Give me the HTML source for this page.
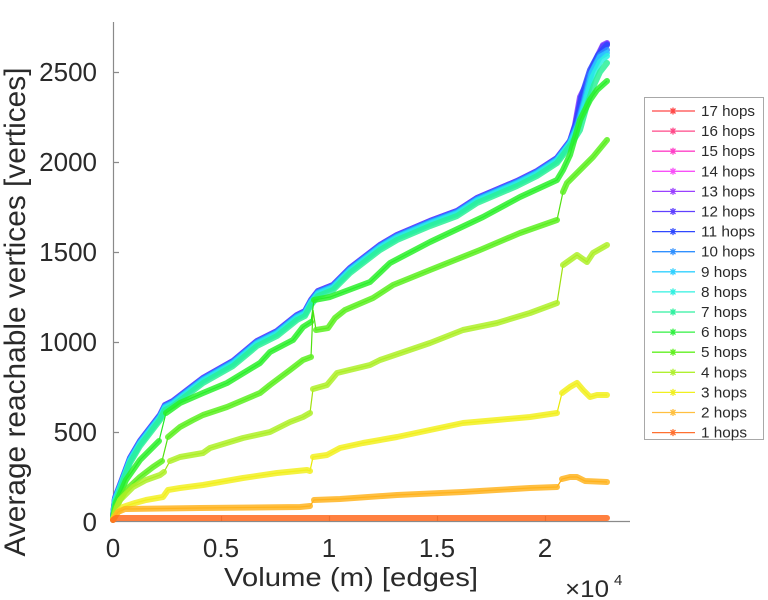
<!DOCTYPE html>
<html><head><meta charset="utf-8"><style>html,body{margin:0;padding:0;background:#fff}svg{display:block}
.b{fill:none;stroke-width:6;stroke-linejoin:round;stroke-linecap:round;stroke-opacity:.85}
.t{fill:none;stroke-width:1.2}
.tx{fill:#2a2a2a;font-family:"Liberation Sans",Arial,sans-serif}
</style></head><body>
<svg width="768" height="600" viewBox="0 0 768 600" xmlns="http://www.w3.org/2000/svg">
<rect width="768" height="600" fill="#fff"/>
<!-- axes -->
<g stroke="#8a8a8a" stroke-width="1.2" fill="none">
<line x1="113.5" y1="22" x2="113.5" y2="522"/>
<line x1="113" y1="521.5" x2="630" y2="521.5"/>
<path d="M113,72.5H119M113,162.5H119M113,252.5H119M113,342.5H119M113,432.5H119M221.5,521H221.5V516M329.5,521V516M437.5,521V516M545.5,521V516"/>
</g>
<!-- y tick labels -->
<g class="tx" font-size="26" text-anchor="end">
<text x="97" y="81">2500</text>
<text x="97" y="171">2000</text>
<text x="97" y="261">1500</text>
<text x="97" y="351">1000</text>
<text x="97" y="441">500</text>
<text x="97" y="531">0</text>
</g>
<g class="tx" font-size="26" text-anchor="middle">
<text x="113" y="557">0</text>
<text x="221" y="557">0.5</text>
<text x="329" y="557">1</text>
<text x="437" y="557">1.5</text>
<text x="545" y="557">2</text>
</g>
<text class="tx" x="351" y="586" font-size="26" text-anchor="middle" textLength="254" lengthAdjust="spacingAndGlyphs">Volume (m) [edges]</text>
<text class="tx" x="565" y="597" font-size="24" textLength="44" lengthAdjust="spacingAndGlyphs">×10</text>
<text class="tx" x="614" y="585" font-size="15">4</text>
<text class="tx" transform="translate(25,312) rotate(-90)" font-size="30" text-anchor="middle" textLength="489" lengthAdjust="spacingAndGlyphs">Average reachable vertices [vertices]</text>

<!-- cluster 13..7 -->
<g transform="translate(0,-2)"><path class="b" stroke="#8c3cff" d="M113,518 L115,500 120,487 130,460 140,443 150,430 160,417 165,407 173,403 186,393 203,380 233,363 257,343 277,333 297,317 305,313 311,302 318,293 333,287 340,280 350,270 380,247 397,237 430,223 457,213 477,200 517,183 537,173 557,160 570,143"/></g>
<path class="b" stroke="#8c3cff" d="M570,141 L575,125 580,97 586,85 592,68 598,55 603,45 607,43"/>
<g transform="translate(0,-2)"><path class="b" stroke="#5a3cff" d="M113,518 L115,500 120,487 130,460 140,443 150,430 160,417 165,407 173,403 186,393 203,380 233,363 257,343 277,333 297,317 305,313 311,302 318,293 333,287 340,280 350,270 380,247 397,237 430,223 457,213 477,200 517,183 537,173 557,160 570,143"/></g>
<path class="b" stroke="#5a3cff" d="M570,141 L575,127 581,97 587,86 593,68 599,55 603,46 607,44"/>
<g transform="translate(0,-1)"><path class="b" stroke="#2a48ff" d="M113,518 L115,500 120,487 130,460 140,443 150,430 160,417 165,407 173,403 186,393 203,380 233,363 257,343 277,333 297,317 305,313 311,302 318,293 333,287 340,280 350,270 380,247 397,237 430,223 457,213 477,200 517,183 537,173 557,160 570,143"/></g>
<path class="b" stroke="#2a48ff" d="M570,142 L577,120 582,95 590,70 598,55 607,45"/>
<g transform="translate(0,-1)"><path class="b" stroke="#2a90ff" d="M113,518 L115,500 120,487 130,460 140,443 150,430 160,417 165,407 173,403 186,393 203,380 233,363 257,343 277,333 297,317 305,313 311,302 318,293 333,287 340,280 350,270 380,247 397,237 430,223 457,213 477,200 517,183 537,173 557,160 570,143"/></g>
<path class="b" stroke="#2a90ff" d="M570,142 L578,122 584,100 590,75 600,55 607,50"/>
<path class="b" stroke="#2acaff" d="M113,518 L115,500 120,487 130,460 140,443 150,430 160,417 165,407 173,403 186,393 203,380 233,363 257,343 277,333 297,317 305,313 311,302 318,293 333,287 340,280 350,270 380,247 397,237 430,223 457,213 477,200 517,183 537,173 557,160 570,143 578,125 585,100 592,72 600,57 607,53"/>
<g transform="translate(0,1)"><path class="b" stroke="#2af0e0" d="M113,518 L115,500 120,487 130,460 140,443 150,430 160,417 165,407 173,403 186,393 203,380 233,363 257,343 277,333 297,317 305,313 311,302 318,293 333,287 340,280 350,270 380,247 397,237 430,223 457,213 477,200 517,183 537,173 557,160 570,143"/></g>
<path class="b" stroke="#2af0e0" d="M570,144 L579,125 586,100 592,78 600,62 607,56"/>
<g transform="translate(0,3)"><path class="b" stroke="#2af096" d="M113,517 L115,500 120,487 130,460 140,443 150,430 160,417 165,407 173,403 186,393 203,380 233,363 257,343 277,333 297,317 305,313 311,302 318,293 333,287 340,280 350,270 380,247 397,237 430,223 457,213 477,200 517,183 537,173 557,160 570,143"/></g>
<path class="b" stroke="#2af096" d="M570,146 L580,130 587,105 594,85 600,72 607,63"/>

<!-- 6 hops -->
<path class="t" stroke="#20e820" d="M113,519 L116,503 126,480 140,460 153,447 159,441 166,413 180,403 203,393 227,383 260,363 270,352 293,340 303,327 311,322 314,300 330,297 370,282 390,263 430,242 483,217 520,197 557,180 563,170 570,155 580,120 590,100 597,90 607,81"/>
<path class="b" stroke="#2af02a" d="M113,519 L116,503 126,480 140,460 153,447 159,441 M166,413 L180,403 203,393 227,383 260,363 270,352 293,340 303,327 311,322 M314,300 L330,297 370,282 390,263 430,242 483,217 520,197 557,180 563,170 570,155 580,120 590,100 597,90 607,81"/>
<!-- 5 hops -->
<path class="t" stroke="#50e010" d="M113,519 L116,507 126,490 140,477 153,467 162,461 168,437 180,427 193,420 203,415 227,407 260,393 270,385 290,370 303,360 311,357 313,310 316,330 328,328 335,318 345,310 373,298 393,285 430,270 480,250 520,233 557,220 563,192 567,183 577,173 593,157 607,140"/>
<path class="b" stroke="#5af01e" d="M113,519 L116,507 126,490 140,477 153,467 162,461 M168,437 L180,427 193,420 203,415 227,407 260,393 270,385 290,370 303,360 311,357 M316,330 L328,328 335,318 345,310 373,298 393,285 430,270 480,250 520,233 557,220 M563,192 L567,183 577,173 593,157 607,140"/>
<!-- 4 hops -->
<path class="t" stroke="#a0e010" d="M113,519 L117,507 120,500 133,487 146,480 160,475 164,472 170,461 180,457 203,453 210,448 243,438 270,432 290,422 303,417 310,413 313,389 327,385 337,373 370,365 380,360 430,343 463,330 497,323 530,313 557,303 563,265 570,260 577,255 587,262 593,253 607,245"/>
<path class="b" stroke="#aef028" d="M113,519 L117,507 120,500 133,487 146,480 160,475 164,472 M170,461 L180,457 203,453 210,448 243,438 270,432 290,422 303,417 310,413 M313,389 L327,385 337,373 370,365 380,360 430,343 463,330 497,323 530,313 557,303 M563,265 L570,260 577,255 587,262 593,253 607,245"/>
<!-- 3 hops -->
<path class="t" stroke="#e8e800" d="M113,519 L118,512 123,507 135,503 146,500 163,497 168,490 180,488 203,485 243,478 277,473 307,470 310,471 313,457 327,455 340,448 363,443 397,437 430,430 463,423 497,420 530,417 557,413 562,393 570,387 577,383 583,390 590,397 597,395 607,395"/>
<path class="b" stroke="#f2f020" d="M113,519 L118,512 123,507 135,503 146,500 163,497 168,490 180,488 203,485 243,478 277,473 307,470 310,471 M313,457 L327,455 340,448 363,443 397,437 430,430 463,423 497,420 530,417 557,413 M562,393 L570,387 577,383 583,390 590,397 597,395 607,395"/>
<!-- 2 hops -->
<path class="t" stroke="#ffaa00" d="M113,520 L118,512 125,509 200,508 300,507 310,506 314,500 340,499 397,495 463,492 530,488 557,487 562,479 570,477 577,477 585,481 607,482"/>
<path class="b" stroke="#ffb420" d="M113,520 L118,512 125,509 200,508 300,507 310,506 M314,500 L340,499 397,495 463,492 530,488 557,487 M562,479 L570,477 577,477 585,481 607,482"/>
<!-- 1 hops -->
<path class="b" stroke="#ff6a1e" d="M113,520 L116,518 607,518"/>

<!-- legend -->
<rect x="644.5" y="97.5" width="119" height="342" fill="#fff" stroke="#a8a8a8" stroke-width="1"/>
<g class="tx" font-size="14.5">
<g stroke-width="1.3" fill="none">
<path stroke="#ff4848" d="M652,111H695M669.5,111H676.5M673,107.5V114.5M670.5,108.5L675.5,113.5M670.5,113.5L675.5,108.5"/>
<path stroke="#ff4888" d="M652,131.1H695M669.5,131.1H676.5M673,127.6V134.6M670.5,128.6L675.5,133.6M670.5,133.6L675.5,128.6"/>
<path stroke="#ff40c8" d="M652,151.2H695M669.5,151.2H676.5M673,147.7V154.7M670.5,148.7L675.5,153.7M670.5,153.7L675.5,148.7"/>
<path stroke="#f850f8" d="M652,171.3H695M669.5,171.3H676.5M673,167.8V174.8M670.5,168.8L675.5,173.8M670.5,173.8L675.5,168.8"/>
<path stroke="#9a40ff" d="M652,191.4H695M669.5,191.4H676.5M673,187.9V194.9M670.5,188.9L675.5,193.9M670.5,193.9L675.5,188.9"/>
<path stroke="#6040ff" d="M652,211.5H695M669.5,211.5H676.5M673,208V215M670.5,209L675.5,214M670.5,214L675.5,209"/>
<path stroke="#3048ff" d="M652,231.6H695M669.5,231.6H676.5M673,228.1V235.1M670.5,229.1L675.5,234.1M670.5,234.1L675.5,229.1"/>
<path stroke="#3090ff" d="M652,251.7H695M669.5,251.7H676.5M673,248.2V255.2M670.5,249.2L675.5,254.2M670.5,254.2L675.5,249.2"/>
<path stroke="#30d0ff" d="M652,271.8H695M669.5,271.8H676.5M673,268.3V275.3M670.5,269.3L675.5,274.3M670.5,274.3L675.5,269.3"/>
<path stroke="#30f0e0" d="M652,291.9H695M669.5,291.9H676.5M673,288.4V295.4M670.5,289.4L675.5,294.4M670.5,294.4L675.5,289.4"/>
<path stroke="#30f0a0" d="M652,312H695M669.5,312H676.5M673,308.5V315.5M670.5,309.5L675.5,314.5M670.5,314.5L675.5,309.5"/>
<path stroke="#30f040" d="M652,332.1H695M669.5,332.1H676.5M673,328.6V335.6M670.5,329.6L675.5,334.6M670.5,334.6L675.5,329.6"/>
<path stroke="#60f020" d="M652,352.2H695M669.5,352.2H676.5M673,348.7V355.7M670.5,349.7L675.5,354.7M670.5,354.7L675.5,349.7"/>
<path stroke="#b0f030" d="M652,372.3H695M669.5,372.3H676.5M673,368.8V375.8M670.5,369.8L675.5,374.8M670.5,374.8L675.5,369.8"/>
<path stroke="#f0f020" d="M652,392.4H695M669.5,392.4H676.5M673,388.9V395.9M670.5,389.9L675.5,394.9M670.5,394.9L675.5,389.9"/>
<path stroke="#ffc040" d="M652,412.5H695M669.5,412.5H676.5M673,409V416M670.5,410L675.5,415M670.5,415L675.5,410"/>
<path stroke="#ff7030" d="M652,432.6H695M669.5,432.6H676.5M673,429.1V436.1M670.5,430.1L675.5,435.1M670.5,435.1L675.5,430.1"/>
</g>
<text x="701" y="116" textLength="54" lengthAdjust="spacingAndGlyphs">17 hops</text>
<text x="701" y="136.1" textLength="54" lengthAdjust="spacingAndGlyphs">16 hops</text>
<text x="701" y="156.2" textLength="54" lengthAdjust="spacingAndGlyphs">15 hops</text>
<text x="701" y="176.3" textLength="54" lengthAdjust="spacingAndGlyphs">14 hops</text>
<text x="701" y="196.4" textLength="54" lengthAdjust="spacingAndGlyphs">13 hops</text>
<text x="701" y="216.5" textLength="54" lengthAdjust="spacingAndGlyphs">12 hops</text>
<text x="701" y="236.6" textLength="54" lengthAdjust="spacingAndGlyphs">11 hops</text>
<text x="701" y="256.7" textLength="54" lengthAdjust="spacingAndGlyphs">10 hops</text>
<text x="701" y="276.8" textLength="46" lengthAdjust="spacingAndGlyphs">9 hops</text>
<text x="701" y="296.9" textLength="46" lengthAdjust="spacingAndGlyphs">8 hops</text>
<text x="701" y="317" textLength="46" lengthAdjust="spacingAndGlyphs">7 hops</text>
<text x="701" y="337.1" textLength="46" lengthAdjust="spacingAndGlyphs">6 hops</text>
<text x="701" y="357.2" textLength="46" lengthAdjust="spacingAndGlyphs">5 hops</text>
<text x="701" y="377.3" textLength="46" lengthAdjust="spacingAndGlyphs">4 hops</text>
<text x="701" y="397.4" textLength="46" lengthAdjust="spacingAndGlyphs">3 hops</text>
<text x="701" y="417.5" textLength="46" lengthAdjust="spacingAndGlyphs">2 hops</text>
<text x="701" y="437.6" textLength="46" lengthAdjust="spacingAndGlyphs">1 hops</text>
</g>
</svg>
</body></html>
